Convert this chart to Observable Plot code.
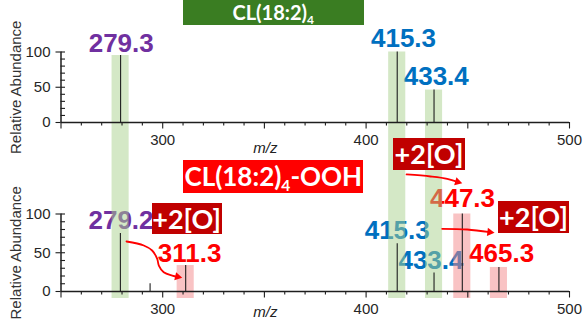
<!DOCTYPE html>
<html><head><meta charset="utf-8">
<script src="https://cdn.jsdelivr.net/npm/d3@7"></script>
<script src="https://cdn.jsdelivr.net/npm/@observablehq/plot@0.6"></script>
<style>
html,body{margin:0;padding:0;background:#fff;}
#wrap{position:relative;width:584px;height:320px;overflow:hidden;background:#fff;}
.panel{position:absolute;left:0;width:584px;height:160px;}
.box{position:absolute;color:#fff;font-family:Lato,'Open Sans',sans-serif;font-weight:700;text-align:center;white-space:nowrap;box-sizing:border-box;}
.box sub{font-size:0.6em;vertical-align:-0.32em;line-height:0;}
</style></head>
<body><div id="wrap"><div id="top" class="panel" style="top:0"></div><div id="bot" class="panel" style="top:160px"></div></div>
<script>
// ---------- data ----------
const xTickValues = [300, 400, 500];
const yTickValues = [0, 50, 100];

// CL(18:2)4 spectrum
const topMz = [279.3, 415.3, 433.4];
const topAbundance = [95, 100, 46];
// CL(18:2)4-OOH spectrum
const botMz = [279.2, 293.8, 311.3, 415.3, 433.4, 447.3, 465.3];
const botAbundance = [75, 10, 33.5, 61.5, 24, 100, 31];

// peak labels (data coordinates)
const topLabelText = ["279.3", "415.3", "433.4"];
const topLabelKind = ["FA", "lysoCL", "lysoCL"];
const topLabelMz = [279.6, 418.4, 434.5];
const topLabelY = [99.7, 106.8, 52.5];

const botLabelText = ["279.2", "311.3", "415.3", "433.4", "447.3", "465.3"];
const botLabelKind = ["FA", "oxidized", "lysoCL", "lysoCL", "oxidized", "oxidized"];
const botLabelMz = [279.5, 313.2, 415.3, 431.9, 447.4, 466.6];
const botLabelY = [80.9, 37.8, 68, 29.3, 108.8, 37.8];

// highlighted fragments
const sharedFragmentMz = [279.3, 415.3, 433.4];
const sharedFragmentTopAbundance = [95, 100, 46];
const oxidizedFragmentMz = [311.3, 447.3, 465.3];
const oxidizedFragmentAbundance = [33.5, 100, 31];

// +2[O] arrows (data coordinates of the lower spectrum)
const arrow1Mz = [282.2, 290.7, 294.8, 297.3, 298.1, 300.5, 304.7, 307.3];
const arrow1Y  = [64.5, 59.4, 52.9, 42.2, 33.5, 24.9, 20.6, 19.0];
const arrow2Mz = [419.9, 431.7, 439.9, 445.0];
const arrow2Y  = [151, 148.4, 145.4, 141.4];
const arrow3Mz = [437.4, 449.7, 460.8];
const arrow3Y  = [80.9, 80.0, 76.5];
const arrowHeadMz = [307.3, 445.0, 460.8];
const arrowHeadY  = [19.0, 141.4, 76.5];
const arrowHeadAngle = [103, 106, 97];

// ---------- styling ----------
const kindColor = {FA: "#7030a0", lysoCL: "#0070c0", oxidized: "#ff0000"};
const red = "#ff0000";
const ink = "#1e1e1e";
const font = "'Liberation Sans', Arial, sans-serif";
const xPxPerUnit = (569 - 60.5) / 250;

function panel({height, marginTop, marginBottom, peaksMz, peaksAb, labText, labKind, labMz, labY, bands, mzLabelY, arrows}) {
  const pxPerUnit = (height - marginTop - marginBottom) / 100;
  const peaks = peaksMz.map((m, i) => ({mz: m, ab: peaksAb[i]}));
  const labels = labText.map((t, i) => ({t, kind: labKind[i], mz: labMz[i], y: labY[i]}));
  const majorX = d3.range(250, 501, 50);
  const minorX = d3.range(260, 500, 10).filter(v => v % 50 !== 0);
  const minorY = d3.range(10, 101, 10);
  const marks = [
    Plot.text(labels, {x: "mz", y: "y", text: "t", fill: d => kindColor[d.kind], fontSize: 26, fontWeight: "bold", lineAnchor: "bottom", fontFamily: font}),
    Plot.rect(bands, {x1: d => d.mz - 4.2, x2: d => d.mz + 4.2, y1: "y1", y2: "y2", fill: d => d.color, fillOpacity: 0.5}),
    Plot.ruleX(peaks, {x: "mz", y1: 0, y2: "ab", stroke: ink, strokeWidth: 1.1}),
    // x axis
    Plot.ruleX(minorX, {x: d => d, y1: 0, y2: -3.5 / pxPerUnit, stroke: ink, strokeWidth: 1.1}),
    Plot.ruleX(majorX, {x: d => d, y1: 0, y2: -6.5 / pxPerUnit, stroke: ink, strokeWidth: 1.1}),
    Plot.ruleY([0], {x1: 250, x2: 500, stroke: ink, strokeWidth: 1.5}),
    Plot.text(xTickValues, {x: d => d, y: 0, dy: 11.5, text: d => String(d), lineAnchor: "top", fontSize: 15, fill: "#262626", fontFamily: font}),
    // y axis
    Plot.ruleY(minorY, {y: d => d, x1: 250, x2: 250 + 4.5 / xPxPerUnit, stroke: ink, strokeWidth: 1.1}),
    Plot.ruleY(yTickValues, {y: d => d, x1: 250 - 5 / xPxPerUnit, x2: 250, stroke: ink, strokeWidth: 1.1}),
    Plot.ruleX([250], {y1: 0, y2: 100, stroke: ink, strokeWidth: 1.5}),
    Plot.text(yTickValues, {x: 250, y: d => d, dx: -10.5, text: d => String(d), textAnchor: "end", fontSize: 15, fill: "#262626", fontFamily: font}),
    // axis titles
    Plot.text(["m/z"], {x: 350.5, y: mzLabelY, fontStyle: "italic", fontSize: 15, lineAnchor: "bottom", fill: "#222", fontFamily: font}),
    Plot.text(["Relative Abundance"], {frameAnchor: "left", textAnchor: "middle", dx: -45, rotate: -90, fontSize: 15, fill: "#333", fontFamily: font})
  ];
  if (arrows) {
    marks.push(Plot.line(arrows.pts, {x: "mz", y: "y", z: "id", curve: "catmull-rom", stroke: red, strokeWidth: 1.8}));
    marks.push(Plot.dot(arrows.heads, {x: "mz", y: "y", symbol: "triangle", r: 3.1, rotate: "a", fill: red, stroke: "none"}));
  }
  return Plot.plot({
    width: 584, height, marginLeft: 60.5, marginRight: 15, marginTop, marginBottom,
    style: {background: "transparent", overflow: "hidden", fontFamily: font, fontSize: "15px", color: "#222"},
    x: {domain: [250, 500], axis: null},
    y: {domain: [0, 100], axis: null},
    marks
  });
}

const topBands = sharedFragmentMz.map((m, i) => ({mz: m, y1: sharedFragmentTopAbundance[i], y2: -100, color: "#a9d18e"}));
document.getElementById("top").appendChild(panel({
  height: 160, marginTop: 51.5, marginBottom: 38,
  peaksMz: topMz, peaksAb: topAbundance,
  labText: topLabelText, labKind: topLabelKind, labMz: topLabelMz, labY: topLabelY,
  bands: topBands, mzLabelY: -42.6
}));

const botBands = sharedFragmentMz.map(m => ({mz: m, y1: 250, y2: -9, color: "#a9d18e"}))
  .concat(oxidizedFragmentMz.map((m, i) => ({mz: m, y1: oxidizedFragmentAbundance[i], y2: -9, color: "#f4878a"})));
const pts = [];
[[arrow1Mz, arrow1Y], [arrow2Mz, arrow2Y], [arrow3Mz, arrow3Y]].forEach(([ms, ys], k) => ms.forEach((m, i) => pts.push({id: k, mz: m, y: ys[i]})));
const heads = arrowHeadMz.map((m, i) => ({mz: m, y: arrowHeadY[i], a: arrowHeadAngle[i]}));
document.getElementById("bot").appendChild(panel({
  height: 160, marginTop: 53.5, marginBottom: 29,
  peaksMz: botMz, peaksAb: botAbundance,
  labText: botLabelText, labKind: botLabelKind, labMz: botLabelMz, labY: botLabelY,
  bands: botBands, mzLabelY: -33.5, arrows: {pts, heads}
}));

// ---------- annotation boxes ----------
const wrap = document.getElementById("wrap");
function box(html, left, top, w, h, bg, fs, lh) {
  const d = document.createElement("div");
  d.className = "box";
  d.innerHTML = html;
  Object.assign(d.style, {left: left + "px", top: top + "px", width: w + "px", height: h + "px", background: bg, fontSize: fs + "px", lineHeight: (lh || h) + "px"});
  wrap.appendChild(d);
}
box("CL(18:2)<sub>4</sub>", 182.7, 0, 181, 25, "#3a7d22", 20, 24);
box("CL(18:2)<sub>4</sub>-OOH", 183.3, 160, 180, 32.7, "#ff0000", 26);
box("+2[O]", 151.7, 202.7, 70, 31.3, "#c00000", 27);
box("+2[O]", 393, 138, 72, 32, "#c00000", 27);
box("+2[O]", 498, 200.7, 71, 32, "#c00000", 27);
</script>
</body></html>
